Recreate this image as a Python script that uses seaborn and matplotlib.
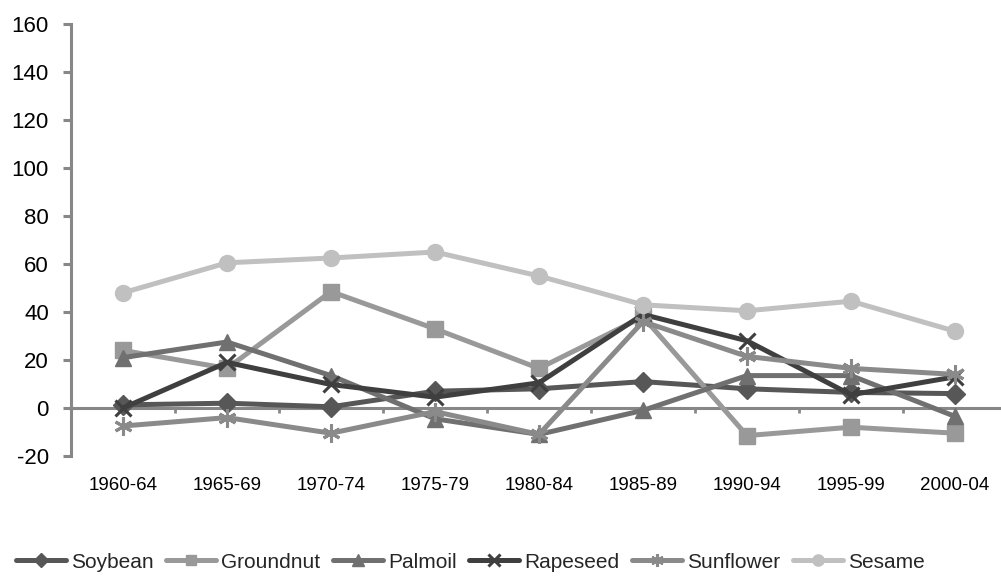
import numpy as np
import pandas as pd
import matplotlib
matplotlib.use("Agg")
import matplotlib.pyplot as plt
import seaborn as sns

periods = ['1960-64', '1965-69', '1970-74', '1975-79', '1980-84',
           '1985-89', '1990-94', '1995-99', '2000-04']
soybean = [1.3, 2, 0.5, 7, 8, 11, 8, 6.5, 6]
groundnut = [24, 16.5, 48.5, 33, 16.5, 38, -11.5, -8, -10.5]
palmoil = [21, 27.5, 13.5, -4.5, -11, -1, 13.5, 13.5, -3.5]
rapeseed = [0, 19, 9.8, 4.5, 10.5, 39, 28, 5.5, 13]
sunflower = [-7.5, -4, -10.5, -1.5, -11, 36, 21.5, 16.5, 14]
sesame = [48, 60.5, 62.5, 65, 55, 43, 40.5, 44.5, 32]

series_names = ['Soybean', 'Groundnut', 'Palmoil', 'Rapeseed', 'Sunflower', 'Sesame']
series_values = [soybean, groundnut, palmoil, rapeseed, sunflower, sesame]
colors = ['#575757', '#999999', '#707070', '#3f3f3f', '#8a8a8a', '#c0c0c0']
markers = ['D', 's', '^', 'x', (6, 2, 0), 'o']
msizes = [10, 11, 11.5, 12, 13, 11.5]

sns.set_style("white")
plt.rcParams['font.family'] = ['Liberation Sans', 'DejaVu Sans']
plt.rcParams['axes.unicode_minus'] = False

W, H = 1001, 576
fig = plt.figure(figsize=(W / 100, H / 100), dpi=100)
ax = fig.add_axes([71 / W, 1 - 456 / H, (W - 71) / W, (456 - 24) / H])

pos = np.arange(len(periods))
for name, vals, c, m, ms in zip(series_names, series_values, colors, markers, msizes):
    df = pd.DataFrame({'x': pos, 'value': vals})
    filled = m not in ('x',) and not isinstance(m, tuple)
    sns.lineplot(data=df, x='x', y='value', ax=ax, color=c, linewidth=3.6,
                 marker=m, markersize=ms, markeredgecolor=c,
                 markerfacecolor=c, markeredgewidth=1 if filled else 2.2,
                 label=name, sort=False, legend=False, clip_on=False)

ax.set_xlim(-0.5, (W - 123) / 104)
ax.set_ylim(-20, 160)
ax.set_yticks(np.arange(-20, 161, 20))
ax.set_xlabel('')
ax.set_ylabel('')

grey = '#878787'
for s in ['top', 'right']:
    ax.spines[s].set_visible(False)
ax.spines['left'].set_color(grey)
ax.spines['left'].set_linewidth(2.2)
ax.spines['bottom'].set_position(('data', 0))
ax.spines['bottom'].set_color(grey)
ax.spines['bottom'].set_linewidth(2.2)
ax.spines['bottom'].set_zorder(0.5)

ax.set_xticks(pos)
ax.set_xticklabels(periods)
ax.set_xticks(pos[:-1] + 0.5, minor=True)
ax.tick_params(axis='x', which='both', bottom=True)
ax.tick_params(axis='y', which='major', left=True)
ax.tick_params(axis='x', which='major', length=0, pad=50, labelsize=13.5, colors='black')
ax.tick_params(axis='x', which='minor', length=3.5, width=2, color=grey, direction='out')
ax.tick_params(axis='y', which='major', length=6, width=2.2, color=grey, direction='out',
               pad=10, labelsize=16, labelcolor='black')

handles, labels = ax.get_legend_handles_labels()
fig.legend(handles, labels, loc='center', bbox_to_anchor=(0.47, 1 - 562 / H), ncol=6,
           frameon=False, fontsize=15, handlelength=2.4, handletextpad=0.25,
           columnspacing=0.6, markerscale=0.7, borderaxespad=0)

fig.savefig('out.png', dpi=100)
